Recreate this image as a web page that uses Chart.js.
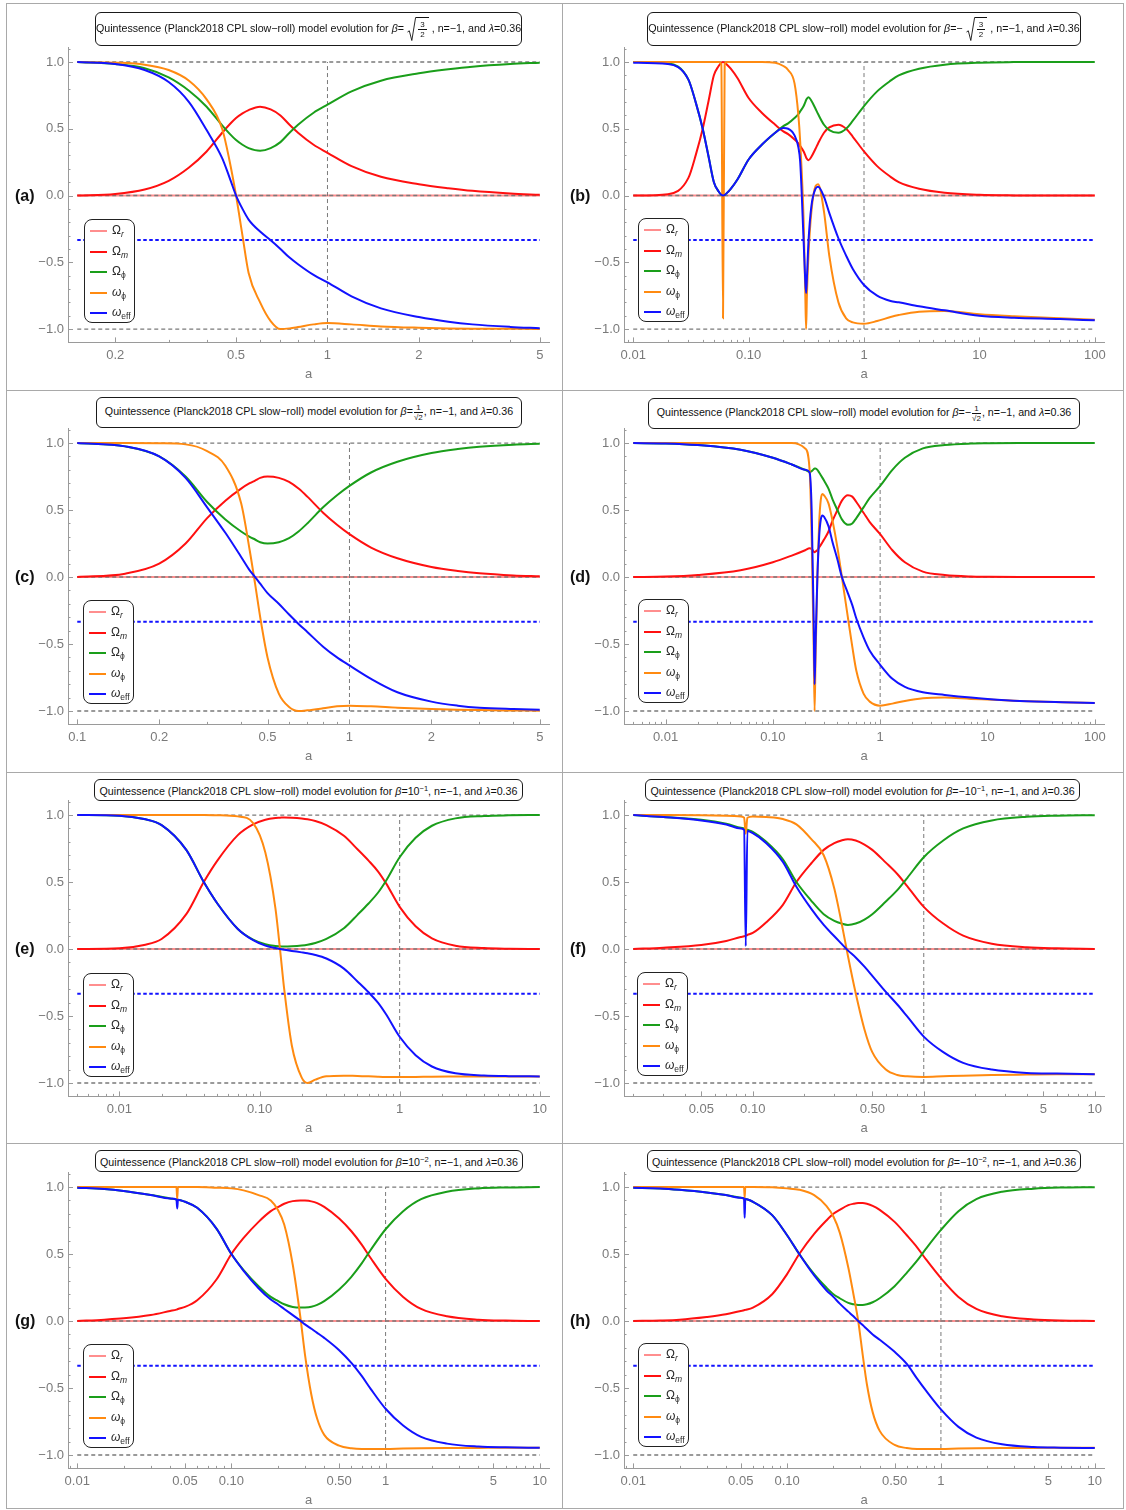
<!DOCTYPE html>
<html>
<head>
<meta charset="utf-8">
<script src="https://cdn.jsdelivr.net/npm/chart.js@4.4.1/dist/chart.umd.min.js"></script>
<style>
  html, body { margin: 0; padding: 0; background: #fff; }
  #page { position: relative; width: 1126px; height: 1510px; overflow: hidden;
          font-family: "Liberation Sans", Arial, sans-serif; }
  #page canvas { position: absolute; }
  .rule { position: absolute; background: #a9a9a9; }
  .ttl { position: absolute; box-sizing: border-box; border: 1px solid #1a1a1a; border-radius: 6px;
         background: #fff; font-size: 10.7px; color: #111; display: flex; align-items: center;
         justify-content: center; white-space: nowrap; }
  .ttl sup { font-size: 7.5px; vertical-align: 4px; }
  .rad { display: inline-flex; align-items: flex-start; vertical-align: middle; margin: 0 1px; }
  .rad svg { display: block; }
  .rb { border-top: 0.9px solid #111; display: inline-flex; align-items: center; height: 24px; padding: 0 1px; }
  .fr { display: inline-flex; flex-direction: column; align-items: center; vertical-align: middle;
        font-size: 8px; line-height: 9px; margin: 0 1px; }
  .fr .n { border-bottom: 0.9px solid #111; padding: 0 2px; }
  .ov { border-top: 0.8px solid #111; }
  .lgd { position: absolute; box-sizing: border-box; width: 51px; height: 104px; border: 1px solid #222;
         border-radius: 8px; background: #fff; }
  .lgd .sw { position: absolute; left: 5px; width: 17px; height: 2px; }
  .lgd .lb { position: absolute; left: 27px; font-size: 12px; line-height: 13px; color: #2a2a2a; white-space: nowrap; }
  .lgd sub { font-size: 8.5px; vertical-align: -3px; }
  .tag { position: absolute; font-weight: bold; font-size: 16px; color: #111; line-height: 18px; }
</style>
</head>
<body>
<div id="page"></div>
<script>
// ---------- data (scale factor a, densities, equations of state) ----------

// (a) beta = sqrt(3/2)
const A_a  = [0.15, 0.2, 0.25, 0.3, 0.35, 0.4, 0.45, 0.475, 0.5, 0.525, 0.55, 0.6, 0.65, 0.7, 0.75, 0.8, 0.9, 1, 1.2, 1.5, 2, 2.5, 3, 4, 5];
const OM_a = [0, 0.012, 0.045, 0.11, 0.21, 0.33, 0.47, 0.53, 0.58, 0.615, 0.64, 0.665, 0.645, 0.6, 0.53, 0.47, 0.38, 0.32, 0.22, 0.14, 0.085, 0.055, 0.035, 0.015, 0.005];
const OP_a = [1, 0.985, 0.953, 0.885, 0.785, 0.665, 0.525, 0.465, 0.415, 0.38, 0.355, 0.335, 0.355, 0.4, 0.47, 0.53, 0.62, 0.68, 0.78, 0.86, 0.915, 0.945, 0.965, 0.985, 0.995];
const WP_a = [1, 0.995, 0.98, 0.94, 0.86, 0.72, 0.5, 0.27, 0, -0.3, -0.58, -0.8, -0.94, -1, -0.995, -0.985, -0.965, -0.955, -0.965, -0.98, -0.99, -0.995, -0.997, -0.998, -0.999];
const WE_a = [1, 0.985, 0.94, 0.85, 0.7, 0.49, 0.28, 0.14, 0, -0.1, -0.18, -0.27, -0.335, -0.4, -0.465, -0.515, -0.595, -0.65, -0.755, -0.845, -0.91, -0.945, -0.965, -0.984, -0.994];

// (b) beta = -sqrt(3/2)
const A_b  = [0.01, 0.02, 0.03, 0.035, 0.04, 0.045, 0.05, 0.055, 0.058, 0.06, 0.062, 0.065, 0.07, 0.08, 0.1, 0.13, 0.17, 0.2, 0.22, 0.25, 0.27, 0.28, 0.3, 0.31, 0.315, 0.32, 0.33, 0.35, 0.38, 0.4, 0.45, 0.5, 0.6, 0.7, 0.8, 1, 1.3, 1.7, 2, 3, 5, 10, 20, 50, 100];
const OM_b = [0, 0.01, 0.13, 0.31, 0.5, 0.71, 0.9, 0.97, 0.995, 1, 0.995, 0.98, 0.95, 0.88, 0.73, 0.62, 0.53, 0.48, 0.46, 0.42, 0.39, 0.37, 0.33, 0.3, 0.285, 0.275, 0.265, 0.29, 0.35, 0.39, 0.47, 0.51, 0.53, 0.5, 0.44, 0.33, 0.22, 0.14, 0.1, 0.05, 0.02, 0.005, 0.001, 0, 0];
const OP_b = [1, 0.99, 0.87, 0.69, 0.5, 0.29, 0.1, 0.03, 0.005, 0, 0.005, 0.02, 0.05, 0.12, 0.27, 0.38, 0.47, 0.52, 0.54, 0.58, 0.61, 0.63, 0.67, 0.7, 0.715, 0.725, 0.735, 0.71, 0.65, 0.61, 0.53, 0.49, 0.47, 0.5, 0.56, 0.67, 0.78, 0.86, 0.9, 0.95, 0.98, 0.995, 0.999, 1, 1];
const WP_b = [1, 1, 1, 1, 1, 1, 1, 1, 0.98, -0.92, 0.98, 1, 1, 1, 1, 1, 0.995, 0.97, 0.94, 0.84, 0.6, 0.4, -0.2, -0.75, -1, -0.75, -0.45, -0.12, 0.07, 0.085, -0.12, -0.45, -0.8, -0.92, -0.95, -0.96, -0.94, -0.91, -0.895, -0.87, -0.865, -0.89, -0.905, -0.92, -0.93];
const WE_b = [0.995, 0.985, 0.87, 0.69, 0.5, 0.29, 0.1, 0.03, 0.005, 0, 0.005, 0.02, 0.05, 0.12, 0.27, 0.38, 0.47, 0.505, 0.5, 0.45, 0.36, 0.25, -0.35, -0.65, -0.73, -0.62, -0.35, -0.08, 0.05, 0.065, -0.01, -0.13, -0.32, -0.45, -0.55, -0.67, -0.75, -0.79, -0.8, -0.83, -0.86, -0.9, -0.915, -0.925, -0.935];

// (c) beta = 1/sqrt(2)
const A_c  = [0.1, 0.15, 0.2, 0.25, 0.3, 0.35, 0.4, 0.43, 0.45, 0.47, 0.5, 0.55, 0.6, 0.65, 0.7, 0.8, 0.9, 1, 1.2, 1.5, 2, 2.5, 3, 4, 5];
const OM_c = [0, 0.025, 0.1, 0.25, 0.44, 0.57, 0.66, 0.7, 0.72, 0.74, 0.75, 0.74, 0.71, 0.66, 0.6, 0.48, 0.39, 0.32, 0.22, 0.14, 0.075, 0.045, 0.028, 0.012, 0.005];
const OP_c = [1, 0.975, 0.9, 0.75, 0.56, 0.43, 0.34, 0.3, 0.28, 0.26, 0.25, 0.26, 0.29, 0.34, 0.4, 0.52, 0.61, 0.68, 0.78, 0.86, 0.925, 0.955, 0.972, 0.988, 0.995];
const WP_c = [1, 1, 0.998, 0.99, 0.94, 0.83, 0.55, 0.2, -0.05, -0.3, -0.6, -0.87, -0.97, -1, -0.995, -0.98, -0.965, -0.96, -0.965, -0.975, -0.985, -0.99, -0.993, -0.996, -0.998];
const WE_c = [1, 0.975, 0.9, 0.74, 0.52, 0.33, 0.15, 0.05, 0, -0.05, -0.12, -0.2, -0.28, -0.35, -0.41, -0.52, -0.6, -0.66, -0.76, -0.86, -0.93, -0.96, -0.975, -0.985, -0.99];

// (d) beta = -1/sqrt(2)
const A_d  = [0.005, 0.01, 0.02, 0.05, 0.1, 0.15, 0.2, 0.22, 0.23, 0.24, 0.245, 0.25, 0.26, 0.27, 0.28, 0.29, 0.3, 0.33, 0.36, 0.4, 0.44, 0.5, 0.55, 0.6, 0.7, 0.8, 1, 1.3, 1.7, 2.5, 4, 7, 10, 20, 50, 100];
const OM_d = [0, 0.003, 0.015, 0.05, 0.11, 0.16, 0.2, 0.215, 0.21, 0.19, 0.185, 0.19, 0.2, 0.22, 0.24, 0.26, 0.28, 0.34, 0.42, 0.5, 0.57, 0.61, 0.6, 0.56, 0.48, 0.41, 0.32, 0.2, 0.11, 0.04, 0.015, 0.004, 0.002, 0, 0, 0];
const OP_d = [1, 0.997, 0.985, 0.95, 0.89, 0.84, 0.8, 0.785, 0.79, 0.805, 0.81, 0.81, 0.8, 0.78, 0.76, 0.74, 0.72, 0.66, 0.58, 0.5, 0.43, 0.39, 0.4, 0.44, 0.52, 0.59, 0.68, 0.8, 0.89, 0.96, 0.985, 0.996, 0.998, 1, 1, 1];
const WP_d = [1, 1, 1, 1, 1, 1, 0.96, 0.8, 0.3, -0.5, -1, -0.6, 0, 0.4, 0.58, 0.62, 0.61, 0.55, 0.42, 0.22, 0, -0.3, -0.52, -0.7, -0.87, -0.93, -0.96, -0.945, -0.925, -0.905, -0.9, -0.91, -0.915, -0.925, -0.935, -0.94];
const WE_d = [1, 0.997, 0.985, 0.95, 0.89, 0.84, 0.8, 0.78, 0.5, -0.3, -0.8, -0.5, 0, 0.3, 0.43, 0.46, 0.45, 0.38, 0.26, 0.13, 0, -0.12, -0.21, -0.31, -0.45, -0.55, -0.655, -0.76, -0.82, -0.86, -0.88, -0.9, -0.91, -0.925, -0.935, -0.94];

// (e) beta = 10^-1
const A_e  = [0.005, 0.01, 0.015, 0.02, 0.03, 0.04, 0.05, 0.07, 0.09, 0.11, 0.13, 0.14, 0.15, 0.17, 0.2, 0.22, 0.25, 0.3, 0.4, 0.5, 0.6, 0.7, 0.8, 1, 1.3, 1.7, 2.5, 4, 6, 10];
const OM_e = [0, 0.005, 0.03, 0.075, 0.26, 0.5, 0.66, 0.85, 0.93, 0.965, 0.978, 0.98, 0.982, 0.98, 0.974, 0.968, 0.955, 0.925, 0.845, 0.745, 0.66, 0.58, 0.49, 0.315, 0.17, 0.08, 0.025, 0.007, 0.002, 0];
const OP_e = [1, 0.995, 0.97, 0.925, 0.74, 0.5, 0.34, 0.15, 0.07, 0.035, 0.022, 0.02, 0.018, 0.02, 0.026, 0.032, 0.045, 0.075, 0.155, 0.255, 0.34, 0.42, 0.51, 0.685, 0.83, 0.92, 0.975, 0.993, 0.998, 1];
const WP_e = [1, 1, 1, 1, 1, 1, 0.998, 0.99, 0.94, 0.72, 0.3, 0, -0.3, -0.72, -0.96, -1, -0.975, -0.95, -0.945, -0.948, -0.95, -0.953, -0.955, -0.956, -0.955, -0.953, -0.952, -0.951, -0.951, -0.951];
const WE_e = [1, 0.995, 0.97, 0.925, 0.74, 0.5, 0.34, 0.15, 0.066, 0.025, 0.007, 0, -0.005, -0.014, -0.025, -0.032, -0.044, -0.071, -0.146, -0.242, -0.323, -0.4, -0.487, -0.655, -0.793, -0.877, -0.928, -0.944, -0.949, -0.951];

// (f) beta = -10^-1
const A_f  = [0.02, 0.03, 0.05, 0.07, 0.085, 0.089, 0.091, 0.093, 0.1, 0.12, 0.15, 0.18, 0.22, 0.26, 0.3, 0.33, 0.36, 0.4, 0.45, 0.5, 0.6, 0.7, 0.8, 1, 1.3, 1.7, 2.5, 4, 6, 10];
const OM_f = [0, 0.01, 0.03, 0.06, 0.09, 0.095, 0.1, 0.105, 0.12, 0.2, 0.33, 0.5, 0.64, 0.74, 0.79, 0.81, 0.82, 0.81, 0.78, 0.74, 0.645, 0.56, 0.47, 0.315, 0.19, 0.1, 0.04, 0.013, 0.005, 0.001];
const OP_f = [1, 0.985, 0.965, 0.935, 0.905, 0.9, 0.895, 0.89, 0.875, 0.8, 0.67, 0.5, 0.36, 0.26, 0.21, 0.19, 0.18, 0.19, 0.22, 0.26, 0.355, 0.44, 0.53, 0.685, 0.81, 0.9, 0.96, 0.987, 0.995, 0.999];
const WP_f = [1, 1, 0.998, 0.995, 0.99, 0.98, 0.86, 0.98, 0.99, 0.985, 0.97, 0.93, 0.82, 0.7, 0.45, 0.2, -0.05, -0.33, -0.6, -0.77, -0.9, -0.94, -0.95, -0.955, -0.95, -0.945, -0.94, -0.937, -0.935, -0.935];
const WE_f = [1, 0.985, 0.96, 0.93, 0.9, 0.89, 0.02, 0.88, 0.865, 0.79, 0.65, 0.465, 0.3, 0.18, 0.095, 0.04, -0.01, -0.063, -0.132, -0.2, -0.32, -0.414, -0.503, -0.654, -0.77, -0.85, -0.9, -0.925, -0.93, -0.934];

// (g) beta = 10^-2
const A_g  = [0.01, 0.015, 0.02, 0.03, 0.04, 0.044, 0.0445, 0.045, 0.05, 0.06, 0.08, 0.1, 0.12, 0.15, 0.18, 0.2, 0.22, 0.25, 0.28, 0.3, 0.33, 0.36, 0.4, 0.5, 0.6, 0.7, 0.8, 1, 1.3, 1.7, 2.5, 4, 6, 10];
const OM_g = [0, 0.01, 0.02, 0.045, 0.075, 0.085, 0.087, 0.09, 0.105, 0.155, 0.31, 0.5, 0.62, 0.74, 0.82, 0.85, 0.875, 0.895, 0.9, 0.899, 0.893, 0.88, 0.852, 0.765, 0.67, 0.57, 0.47, 0.315, 0.18, 0.09, 0.035, 0.01, 0.003, 0];
const OP_g = [0.995, 0.985, 0.97, 0.94, 0.915, 0.907, 0.905, 0.905, 0.89, 0.845, 0.69, 0.5, 0.38, 0.26, 0.18, 0.15, 0.125, 0.105, 0.1, 0.101, 0.107, 0.12, 0.148, 0.235, 0.33, 0.43, 0.53, 0.685, 0.82, 0.91, 0.965, 0.99, 0.997, 1];
const WP_g = [1, 1, 1, 1, 1, 1, 0.91, 1, 1, 1, 0.995, 0.99, 0.975, 0.94, 0.9, 0.83, 0.72, 0.42, 0.03, -0.25, -0.55, -0.73, -0.85, -0.93, -0.95, -0.955, -0.955, -0.955, -0.952, -0.95, -0.948, -0.947, -0.946, -0.946];
const WE_g = [0.995, 0.985, 0.97, 0.94, 0.915, 0.907, 0.84, 0.905, 0.89, 0.845, 0.69, 0.5, 0.375, 0.245, 0.16, 0.125, 0.09, 0.044, 0.003, -0.025, -0.058, -0.088, -0.126, -0.218, -0.313, -0.41, -0.506, -0.655, -0.78, -0.865, -0.915, -0.937, -0.943, -0.946];

// (h) beta = -10^-2
const A_h  = [0.01, 0.015, 0.02, 0.03, 0.04, 0.05, 0.0525, 0.053, 0.0535, 0.06, 0.08, 0.1, 0.12, 0.15, 0.18, 0.2, 0.22, 0.25, 0.27, 0.29, 0.31, 0.33, 0.36, 0.4, 0.5, 0.6, 0.7, 0.8, 1, 1.3, 1.7, 2.5, 4, 6, 10];
const OM_h = [0, 0.004, 0.01, 0.03, 0.05, 0.075, 0.08, 0.082, 0.083, 0.1, 0.2, 0.35, 0.5, 0.65, 0.75, 0.8, 0.83, 0.865, 0.875, 0.88, 0.88, 0.875, 0.86, 0.83, 0.74, 0.64, 0.55, 0.46, 0.32, 0.18, 0.09, 0.035, 0.012, 0.004, 0.001];
const OP_h = [0.995, 0.99, 0.98, 0.96, 0.94, 0.92, 0.915, 0.913, 0.912, 0.89, 0.79, 0.64, 0.5, 0.35, 0.25, 0.2, 0.17, 0.135, 0.125, 0.12, 0.12, 0.125, 0.14, 0.17, 0.26, 0.36, 0.45, 0.54, 0.68, 0.82, 0.91, 0.965, 0.988, 0.996, 0.999];
const WP_h = [1, 1, 1, 1, 1, 1, 1, 0.92, 1, 1, 0.998, 0.99, 0.98, 0.94, 0.86, 0.78, 0.66, 0.4, 0.2, 0, -0.25, -0.47, -0.68, -0.82, -0.925, -0.948, -0.955, -0.955, -0.955, -0.952, -0.95, -0.948, -0.947, -0.946, -0.946];
const WE_h = [0.995, 0.99, 0.98, 0.96, 0.94, 0.92, 0.915, 0.77, 0.91, 0.89, 0.79, 0.64, 0.5, 0.34, 0.23, 0.18, 0.13, 0.07, 0.035, 0, -0.03, -0.06, -0.1, -0.14, -0.23, -0.32, -0.43, -0.52, -0.66, -0.79, -0.87, -0.92, -0.94, -0.945, -0.948];

// radiation density stays on zero over every plotted range (first / last sample)
const OR = [0, 0];

// reference levels
const GUIDE_Y = [1, 0, -1];
const W_ACCEL = -1 / 3;
const A_TODAY = 1;

// axis ticks
const Y_TICKS  = [-1, -0.5, 0, 0.5, 1];
const Y_LABELS = ['\u22121.0', '\u22120.5', '0.0', '0.5', '1.0'];
const XT_a = [0.2, 0.5, 1, 2, 5];                    const XL_a = ['0.2', '0.5', '1', '2', '5'];
const XT_b = [0.01, 0.1, 1, 10, 100];                const XL_b = ['0.01', '0.10', '1', '10', '100'];
const XT_c = [0.1, 0.2, 0.5, 1, 2, 5];               const XL_c = ['0.1', '0.2', '0.5', '1', '2', '5'];
const XT_d = [0.01, 0.1, 1, 10, 100];                const XL_d = ['0.01', '0.10', '1', '10', '100'];
const XT_e = [0.01, 0.1, 1, 10];                     const XL_e = ['0.01', '0.10', '1', '10'];
const XT_f = [0.05, 0.1, 0.5, 1, 5, 10];             const XL_f = ['0.05', '0.10', '0.50', '1', '5', '10'];
const XT_g = [0.01, 0.05, 0.1, 0.5, 1, 5, 10];       const XL_g = ['0.01', '0.05', '0.10', '0.50', '1', '5', '10'];
const XT_h = [0.01, 0.05, 0.1, 0.5, 1, 5, 10];       const XL_h = ['0.01', '0.05', '0.10', '0.50', '1', '5', '10'];

// ---------- styling / layout ----------
const C_RAD = '#ff8e8e', C_MAT = '#ff1010', C_PHI = '#1a9e1a', C_WPHI = '#ff8a10', C_WEFF = '#1212ff';
const C_GUIDE = '#7a7a7a', C_AXIS = '#9a9a9a', C_LABEL = '#7a7a7a';
const X_AXIS_H = 40.3;

const COLS = [
  { x0: 6, w: 556, L: 68, R: 549, tag: 15 },
  { x0: 562, w: 561, L: 624, R: 1104, tag: 570 }
];
const ROWS = [
  { y0: 3, h: 387, T: 47.3, B: 342.4 },
  { y0: 390, h: 382, T: 428.3, B: 724.4 },
  { y0: 772, h: 371, T: 800.3, B: 1096.4 },
  { y0: 1143, h: 366, T: 1172.3, B: 1468.4 }
];

const RAD32 = '<span class="rad"><svg width="9" height="25" viewBox="0 0 9 25"><polyline points="0.5,15 2.3,13.8 4.8,23.5 8.6,0.5 9,0.5" fill="none" stroke="#111" stroke-width="0.9"/></svg><span class="rb"><span class="fr"><span class="n">3</span><span>2</span></span></span></span>';
const INV_RT2 = '<span class="fr"><span class="n">1</span><span>\u221a<span class="ov">2</span></span></span>';
const HEAD = 'Quintessence (Planck2018 CPL slow\u2212roll) model evolution for <i>\u03b2</i>=';
const TAIL = ', n=\u22121, and <i>\u03bb</i>=0.36';

const PANELS = [
  { id: 'a', col: 0, row: 0, A: A_a, OM: OM_a, OP: OP_a, WP: WP_a, WE: WE_a, xt: XT_a, xl: XL_a,
    beta: '&thinsp;' + RAD32 + '&thinsp;', title: [95, 12, 427, 34], legend: [84, 219] },
  { id: 'b', col: 1, row: 0, A: A_b, OM: OM_b, OP: OP_b, WP: WP_b, WE: WE_b, xt: XT_b, xl: XL_b,
    beta: '\u2212&thinsp;' + RAD32 + '&thinsp;', title: [647, 12, 434, 34], legend: [638, 218] },
  { id: 'c', col: 0, row: 1, A: A_c, OM: OM_c, OP: OP_c, WP: WP_c, WE: WE_c, xt: XT_c, xl: XL_c,
    beta: INV_RT2, title: [96, 397, 426, 31], legend: [83, 600] },
  { id: 'd', col: 1, row: 1, A: A_d, OM: OM_d, OP: OP_d, WP: WP_d, WE: WE_d, xt: XT_d, xl: XL_d,
    beta: '\u2212' + INV_RT2, title: [648, 398, 432, 31], legend: [638, 599] },
  { id: 'e', col: 0, row: 2, A: A_e, OM: OM_e, OP: OP_e, WP: WP_e, WE: WE_e, xt: XT_e, xl: XL_e,
    beta: '10<sup>\u22121</sup>', title: [94, 779, 429, 22], legend: [83, 973] },
  { id: 'f', col: 1, row: 2, A: A_f, OM: OM_f, OP: OP_f, WP: WP_f, WE: WE_f, xt: XT_f, xl: XL_f,
    beta: '\u221210<sup>\u22121</sup>', title: [645, 779, 435, 22], legend: [637, 972] },
  { id: 'g', col: 0, row: 3, A: A_g, OM: OM_g, OP: OP_g, WP: WP_g, WE: WE_g, xt: XT_g, xl: XL_g,
    beta: '10<sup>\u22122</sup>', title: [95, 1150, 428, 22], legend: [83, 1344] },
  { id: 'h', col: 1, row: 3, A: A_h, OM: OM_h, OP: OP_h, WP: WP_h, WE: WE_h, xt: XT_h, xl: XL_h,
    beta: '\u221210<sup>\u22122</sup>', title: [647, 1150, 434, 22], legend: [638, 1343] }
];

const LEGEND_ROWS = [
  ['\u03a9<sub><i>r</i></sub>', C_RAD],
  ['\u03a9<sub><i>m</i></sub>', C_MAT],
  ['\u03a9<sub>\u03d5</sub>', C_PHI],
  ['<i>\u03c9</i><sub>\u03d5</sub>', C_WPHI],
  ['<i>\u03c9</i><sub>eff</sub>', C_WEFF]
];
const LEGEND_DY = [11, 31.5, 52, 72.5, 93];

Chart.defaults.font.family = "'Liberation Sans', Arial, sans-serif";

// inward frame ticks (Mathematica style)
const frameTicks = {
  id: 'frameTicks',
  afterDatasetsDraw(chart, _args, opts) {
    const { ctx, chartArea: ca, scales: { x, y } } = chart;
    ctx.save();
    ctx.strokeStyle = C_AXIS;
    ctx.lineWidth = 1;
    ctx.beginPath();
    const xt = (v, len) => { const p = Math.round(x.getPixelForValue(v)) + 0.5; ctx.moveTo(p, ca.bottom); ctx.lineTo(p, ca.bottom - len); };
    const yt = (v, len) => { const p = Math.round(y.getPixelForValue(v)) + 0.5; ctx.moveTo(ca.left, p); ctx.lineTo(ca.left + len, p); };
    opts.xMajor.forEach(v => xt(v, 5));
    opts.xMinor.forEach(v => xt(v, 2.5));
    opts.yMajor.forEach(v => yt(v, 5));
    opts.yMinor.forEach(v => yt(v, 2.5));
    ctx.stroke();
    ctx.restore();
  }
};

function logMinors(min, max, majors) {
  const out = [];
  for (let e = Math.floor(Math.log10(min)); e <= Math.ceil(Math.log10(max)); e++) {
    for (let k = 1; k < 10; k++) {
      const v = k * Math.pow(10, e);
      if (v > min && v < max && !majors.some(m => Math.abs(m - v) / v < 1e-6)) out.push(v);
    }
  }
  return out;
}
const Y_MINOR = [];
for (let i = -10; i <= 11; i++) if (i % 5 !== 0) Y_MINOR.push(i / 10);

function curve(xs, ys, color, order) {
  return { data: xs.map((x, i) => ({ x, y: ys[i] })), borderColor: color, borderWidth: 2,
           pointRadius: 0, showLine: true, fill: false, cubicInterpolationMode: 'monotone', order };
}
function guide(pts, color, dash, width, order) {
  return { data: pts, borderColor: color, borderDash: dash, borderWidth: width,
           pointRadius: 0, showLine: true, fill: false, tension: 0, order };
}

const page = document.getElementById('page');

function addRule(l, t, w, h) {
  const d = document.createElement('div');
  d.className = 'rule';
  Object.assign(d.style, { left: l + 'px', top: t + 'px', width: w + 'px', height: h + 'px' });
  page.appendChild(d);
}
[6, 562, 1123].forEach(x => addRule(x, 3, 1, 1506));
[3, 390, 772, 1143, 1508].forEach(y => addRule(6, y, 1118, 1));

PANELS.forEach(p => {
  const col = COLS[p.col], row = ROWS[p.row];
  const a0 = p.A[0], a1 = p.A[p.A.length - 1];
  const span = Math.log10(a1) - Math.log10(a0);
  const xmin = a0 / Math.pow(10, 0.02 * span), xmax = a1 * Math.pow(10, 0.02 * span);

  const cv = document.createElement('canvas');
  cv.width = col.w; cv.height = row.h;
  cv.style.left = col.x0 + 'px'; cv.style.top = row.y0 + 'px';
  page.appendChild(cv);

  const datasets = [
    curve(p.A, p.WE, C_WEFF, 0),
    curve(p.A, p.WP, C_WPHI, 1),
    curve(p.A, p.OP, C_PHI, 2),
    curve(p.A, p.OM, C_MAT, 3),
    guide([{ x: a0, y: W_ACCEL }, { x: a1, y: W_ACCEL }], C_WEFF, [3.5, 2.5], 2, 4),
    ...GUIDE_Y.map(g => guide([{ x: a0, y: g }, { x: a1, y: g }], C_GUIDE, [4, 3], 1.3, 5)),
    guide([{ x: A_TODAY, y: -1 }, { x: A_TODAY, y: 1 }], C_GUIDE, [4, 3], 1, 5),
    { ...curve([a0, a1], OR, C_RAD, 6), cubicInterpolationMode: 'default', tension: 0 }
  ];

  new Chart(cv, {
    type: 'scatter',
    data: { datasets },
    options: {
      responsive: false, animation: false, devicePixelRatio: 1, events: [],
      layout: { padding: { left: 0, top: row.T - row.y0, right: col.x0 + col.w - col.R,
                           bottom: row.y0 + row.h - row.B - X_AXIS_H } },
      plugins: {
        legend: { display: false }, tooltip: { enabled: false },
        frameTicks: { xMajor: p.xt, xMinor: logMinors(xmin, xmax, p.xt), yMajor: Y_TICKS, yMinor: Y_MINOR }
      },
      scales: {
        x: {
          type: 'logarithmic', min: xmin, max: xmax, bounds: 'data',
          grid: { display: false, drawTicks: false },
          border: { display: true, color: C_AXIS, width: 1 },
          ticks: { autoSkip: false, maxRotation: 0, minRotation: 0, padding: 5, color: C_LABEL,
                   font: { size: 13 }, callback: (v, i) => p.xl[i] },
          afterBuildTicks: s => { s.ticks = p.xt.map(v => ({ value: v })); },
          afterFit: s => { s.height = X_AXIS_H; },
          title: { display: true, text: 'a', color: C_LABEL, font: { size: 13 }, padding: 0 }
        },
        y: {
          type: 'linear', min: -1.1, max: 1.11, bounds: 'data',
          grid: { display: false, drawTicks: false },
          border: { display: true, color: C_AXIS, width: 1 },
          ticks: { autoSkip: false, padding: 4, color: C_LABEL, font: { size: 13 },
                   callback: (v, i) => Y_LABELS[i] },
          afterBuildTicks: s => { s.ticks = Y_TICKS.map(v => ({ value: v })); },
          afterFit: s => { s.width = col.L - col.x0; }
        }
      }
    },
    plugins: [frameTicks]
  });

  // title box
  const t = document.createElement('div');
  t.className = 'ttl';
  Object.assign(t.style, { left: p.title[0] + 'px', top: p.title[1] + 'px', width: p.title[2] + 'px', height: p.title[3] + 'px' });
  t.innerHTML = '<span>' + HEAD + p.beta + TAIL + '</span>';
  page.appendChild(t);

  // legend box
  const lg = document.createElement('div');
  lg.className = 'lgd';
  lg.style.left = p.legend[0] + 'px'; lg.style.top = p.legend[1] + 'px';
  LEGEND_ROWS.forEach(([label, color], i) => {
    const sw = document.createElement('div');
    sw.className = 'sw'; sw.style.top = (LEGEND_DY[i] - 1) + 'px'; sw.style.background = color;
    const lb = document.createElement('div');
    lb.className = 'lb'; lb.style.top = (LEGEND_DY[i] - 7) + 'px'; lb.innerHTML = label;
    lg.appendChild(sw); lg.appendChild(lb);
  });
  page.appendChild(lg);

  // panel tag
  const zeroY = row.T + (1.11 - 0) / 2.21 * (row.B - row.T);
  const tag = document.createElement('div');
  tag.className = 'tag';
  tag.style.left = col.tag + 'px'; tag.style.top = (zeroY - 9) + 'px';
  tag.textContent = '(' + p.id + ')';
  page.appendChild(tag);
});
</script>
</body>
</html>
